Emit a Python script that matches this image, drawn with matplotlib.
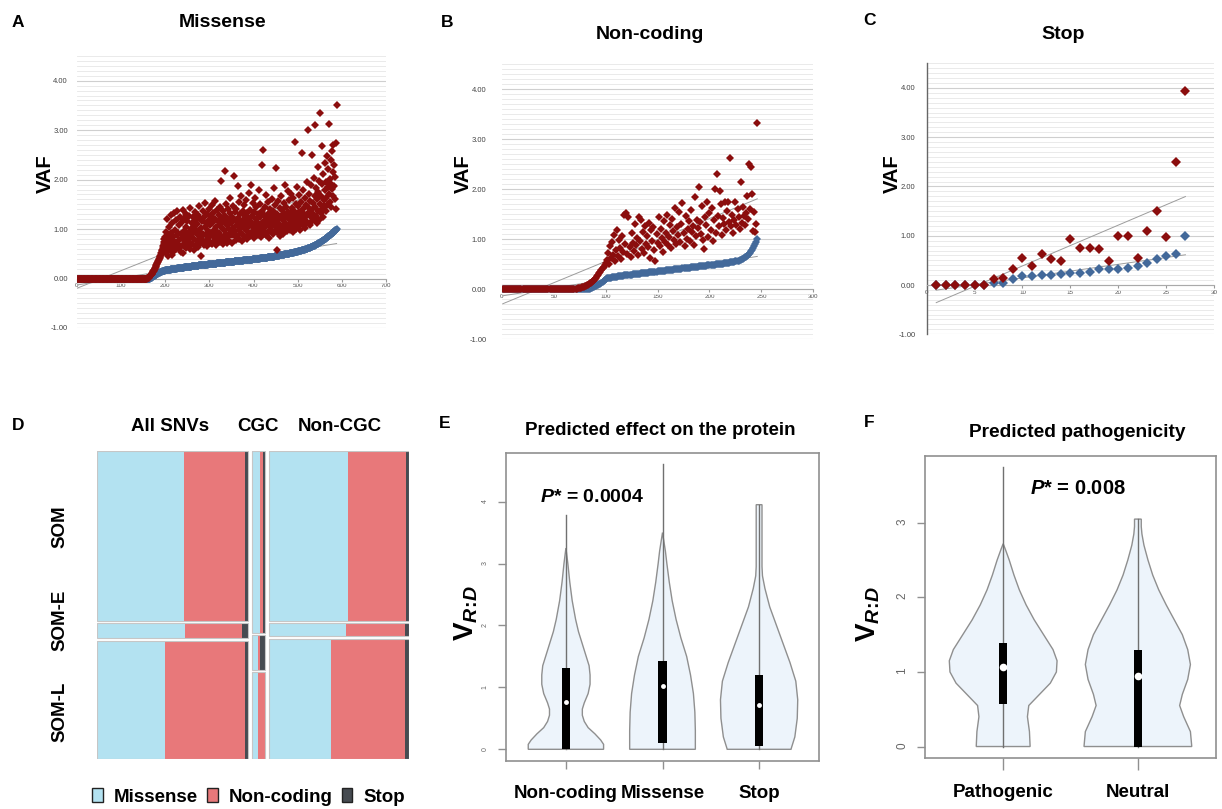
import numpy as np
import matplotlib
matplotlib.use('Agg')
import matplotlib.pyplot as plt
from matplotlib.patches import Patch
from matplotlib.ticker import MultipleLocator, FormatStrFormatter

plt.rcParams['font.family'] = ['Liberation Sans', 'DejaVu Sans']
plt.rcParams['mathtext.fontset'] = 'custom'
plt.rcParams['mathtext.rm'] = 'Liberation Sans:bold'
plt.rcParams['mathtext.bf'] = 'Liberation Sans:bold'
plt.rcParams['mathtext.it'] = 'Liberation Sans:bold:italic'

# ---------------- data: panels A-C (VAF, sorted by rank) ----------------
red_a = [0.0] * 158 + [
    0.01, 0.01, 0.02, 0.02, 0.03, 0.04, 0.05, 0.06, 0.07, 0.08,
    0.09, 0.10, 0.12, 0.13, 0.15, 0.16, 0.18, 0.20, 0.21, 0.23,
    0.25, 0.27, 0.29, 0.31, 0.33, 0.35, 0.37, 0.39, 0.41, 0.44,
    0.46, 0.48, 0.52, 0.55, 0.58, 0.62, 0.65, 0.70, 0.74, 0.79,
    0.62, 0.84,
    0.52, 0.95, 0.61, 1.21, 0.74, 0.45, 0.88, 0.67, 1.05, 0.58,
    0.79, 1.28, 0.63, 0.92, 0.48, 1.12, 0.71, 0.84, 0.55, 1.33,
    0.66, 0.98, 0.74, 1.19, 0.59, 0.87, 1.36, 0.70, 0.93, 0.62,
    1.08, 0.77, 1.25, 0.64, 0.90, 0.53, 1.15, 0.81, 0.68, 1.39,
    0.51, 0.96, 1.22, 0.73, 0.86, 1.31, 0.62, 1.04, 0.78, 1.17,
    0.89, 0.67, 1.27, 0.94, 0.72, 1.42, 0.60, 1.01, 0.83, 1.13,
    0.70, 1.24, 0.92, 0.57, 1.06, 0.80, 1.35, 0.66, 0.98, 1.18,
    0.75, 1.10, 0.63, 1.29, 0.88, 1.46, 0.69, 0.95, 1.21, 0.82,
    1.03, 0.45, 1.16, 0.77, 1.37, 0.91, 0.68, 1.25, 1.05, 0.74,
    1.52, 0.87, 1.12, 0.65, 1.31, 0.97, 0.79, 1.19, 1.41, 0.84,
    1.08, 0.72, 1.26, 0.93, 1.49, 0.70, 1.14, 0.86, 1.33, 0.99,
    0.76, 1.21, 1.57, 0.89, 1.04, 0.67, 1.38, 0.95, 1.17, 0.81,
    1.29, 0.92, 1.45, 0.74, 1.10, 1.97, 0.85, 1.23, 1.02, 0.69,
    1.36, 0.98, 1.14, 0.79, 2.17, 1.27, 0.90, 1.51, 0.72, 1.09,
    1.20, 0.83, 1.40, 1.01, 0.76, 1.32, 1.63, 0.94, 1.12, 0.87,
    1.25, 0.71, 1.46, 1.03, 2.07, 0.89, 1.18, 1.34, 0.96, 0.78,
    1.41, 1.09, 0.85, 1.87, 1.23, 0.99, 1.55, 0.80, 1.14, 1.30,
    0.92, 1.67, 1.06, 0.75, 1.37, 1.19, 0.88, 1.48, 1.02, 1.26,
    0.83, 1.13, 1.58, 0.97, 1.33, 0.79, 1.22, 1.05, 1.73, 0.91,
    1.16, 1.39, 0.86, 1.90, 1.08, 1.27, 0.94, 1.52, 1.11, 0.82,
    1.35, 1.00, 1.62, 0.89, 1.21, 1.44, 0.96, 1.15, 1.31, 0.87,
    1.07, 1.78, 0.93, 1.24, 1.50, 1.02, 0.84, 1.36, 1.12, 2.29,
    2.60, 0.98, 1.29, 1.17, 0.91, 1.45, 1.06, 1.68, 0.88, 1.22,
    1.10, 1.54, 0.95, 1.33, 1.19, 0.82, 1.41, 1.04, 1.27, 0.99,
    1.60, 1.14, 0.90, 1.37, 1.08, 1.84, 1.25, 0.97, 1.48, 1.16,
    2.24, 0.57, 1.03, 1.31, 0.93, 1.56, 1.21, 1.11, 0.86, 1.43,
    1.27, 1.05, 1.66, 0.99, 1.38, 1.18, 0.91, 1.52, 1.09, 1.30,
    1.90, 1.13, 1.01, 1.45, 1.24, 0.96, 1.76, 1.35, 1.07, 1.20,
    1.58, 0.98, 1.32, 1.15, 1.71, 1.04, 1.42, 1.26, 0.94, 1.62,
    1.19, 1.37, 1.08, 2.76, 1.29, 1.50, 1.00, 1.85, 1.23, 1.12,
    1.46, 1.06, 1.34, 1.68, 1.18, 0.99, 1.55, 1.27, 2.54, 1.14,
    1.40, 1.79, 1.09, 1.31, 1.22, 1.63, 1.03, 1.48, 1.17, 1.95,
    1.28, 1.12, 3.00, 1.44, 1.35, 1.70, 1.08, 1.57, 1.24, 1.89,
    1.39, 2.50, 1.16, 1.52, 1.30, 2.04, 1.21, 1.66, 3.11, 1.45,
    1.27, 1.83, 1.13, 1.60, 2.25, 1.36, 1.74, 1.19, 1.98, 1.50,
    3.35, 1.32, 1.67, 2.68, 1.41, 1.91, 1.25, 2.12, 1.58, 1.46,
    1.78, 2.34, 1.37, 1.95, 1.62, 2.48, 1.49, 1.86, 2.21, 1.70,
    3.13, 1.55, 2.02, 1.93, 1.44, 2.40, 1.81, 2.58, 1.66, 2.15,
    2.70, 1.88, 2.29, 1.61, 2.05, 1.40, 2.75, 3.50]

blue_a = [0.0] * 165 + [
    0.01, 0.01, 0.02, 0.02, 0.03, 0.03, 0.04, 0.05, 0.05, 0.06,
    0.06, 0.07, 0.07, 0.08, 0.08, 0.09, 0.10, 0.10, 0.11, 0.11,
    0.12, 0.12, 0.13, 0.13, 0.14, 0.14, 0.14, 0.15, 0.15, 0.15,
    0.16, 0.16, 0.16, 0.16, 0.17, 0.17, 0.17, 0.17, 0.17, 0.17,
    0.18, 0.18, 0.18, 0.18, 0.18, 0.18, 0.18, 0.19, 0.19, 0.19,
    0.19, 0.19, 0.19, 0.19, 0.20, 0.20, 0.20, 0.20, 0.20, 0.20,
    0.20, 0.21, 0.21, 0.21, 0.21, 0.21, 0.21, 0.21, 0.21, 0.22,
    0.22, 0.22, 0.22, 0.22, 0.22, 0.22, 0.22, 0.23, 0.23, 0.23,
    0.23, 0.23, 0.23, 0.23, 0.23, 0.24, 0.24, 0.24, 0.24, 0.24,
    0.24, 0.24, 0.24, 0.24, 0.25, 0.25, 0.25, 0.25, 0.25, 0.25,
    0.25, 0.25, 0.26, 0.26, 0.26, 0.26, 0.26, 0.26, 0.26, 0.26,
    0.27, 0.27, 0.27, 0.27, 0.27, 0.27, 0.27, 0.27, 0.27, 0.27,
    0.28, 0.28, 0.28, 0.28, 0.28, 0.28, 0.28, 0.28, 0.28, 0.28,
    0.28, 0.29, 0.29, 0.29, 0.29, 0.29, 0.29, 0.29, 0.29, 0.29,
    0.29, 0.30, 0.30, 0.30, 0.30, 0.30, 0.30, 0.30, 0.30, 0.30,
    0.30, 0.31, 0.31, 0.31, 0.31, 0.31, 0.31, 0.31, 0.31, 0.31,
    0.31, 0.32, 0.32, 0.32, 0.32, 0.32, 0.32, 0.32, 0.32, 0.32,
    0.32, 0.33, 0.33, 0.33, 0.33, 0.33, 0.33, 0.33, 0.33, 0.33,
    0.33, 0.34, 0.34, 0.34, 0.34, 0.34, 0.34, 0.34, 0.34, 0.34,
    0.34, 0.35, 0.35, 0.35, 0.35, 0.35, 0.35, 0.35, 0.35, 0.35,
    0.35, 0.36, 0.36, 0.36, 0.36, 0.36, 0.36, 0.36, 0.36, 0.36,
    0.36, 0.37, 0.37, 0.37, 0.37, 0.37, 0.37, 0.37, 0.37, 0.37,
    0.37, 0.38, 0.38, 0.38, 0.38, 0.38, 0.38, 0.38, 0.38, 0.38,
    0.38, 0.38, 0.39, 0.39, 0.39, 0.39, 0.39, 0.39, 0.39, 0.39,
    0.39, 0.40, 0.40, 0.40, 0.40, 0.40, 0.40, 0.40, 0.40, 0.41,
    0.41, 0.41, 0.41, 0.41, 0.41, 0.41, 0.41, 0.42, 0.42, 0.42,
    0.42, 0.42, 0.42, 0.42, 0.42, 0.42, 0.43, 0.43, 0.43, 0.43,
    0.43, 0.43, 0.43, 0.43, 0.44, 0.44, 0.44, 0.44, 0.44, 0.44,
    0.44, 0.44, 0.45, 0.45, 0.45, 0.45, 0.45, 0.46, 0.46, 0.46,
    0.46, 0.46, 0.46, 0.47, 0.47, 0.47, 0.47, 0.47, 0.48, 0.48,
    0.48, 0.48, 0.48, 0.48, 0.49, 0.49, 0.49, 0.49, 0.49, 0.49,
    0.49, 0.50, 0.50, 0.50, 0.50, 0.50, 0.51, 0.51, 0.51, 0.51,
    0.51, 0.52, 0.52, 0.52, 0.52, 0.52, 0.53, 0.53, 0.53, 0.53,
    0.53, 0.54, 0.54, 0.54, 0.54, 0.55, 0.55, 0.55, 0.55, 0.56,
    0.56, 0.56, 0.56, 0.57, 0.57, 0.57, 0.57, 0.58, 0.58, 0.58,
    0.58, 0.59, 0.59, 0.59, 0.60, 0.60, 0.60, 0.61, 0.61, 0.61,
    0.62, 0.62, 0.62, 0.63, 0.63, 0.63, 0.64, 0.64, 0.65, 0.65,
    0.65, 0.66, 0.66, 0.67, 0.67, 0.68, 0.68, 0.69, 0.69, 0.70,
    0.70, 0.71, 0.71, 0.72, 0.72, 0.73, 0.73, 0.74, 0.75, 0.75,
    0.76, 0.76, 0.77, 0.78, 0.78, 0.79, 0.80, 0.80, 0.81, 0.82,
    0.82, 0.83, 0.84, 0.85, 0.85, 0.86, 0.87, 0.88, 0.89, 0.89,
    0.90, 0.91, 0.92, 0.93, 0.93, 0.94, 0.95, 0.96, 0.97, 0.98,
    0.98, 0.99, 1.00]

red_b = [0.0] * 70 + [
    0.01, 0.01, 0.02, 0.02, 0.03, 0.03, 0.04, 0.05, 0.05, 0.06,
    0.07, 0.08, 0.09, 0.10, 0.12, 0.13, 0.15, 0.17, 0.19, 0.21,
    0.23, 0.26, 0.29, 0.32, 0.35, 0.38, 0.42, 0.45, 0.49, 0.53,
    0.58, 0.72, 0.50, 0.86, 0.63, 0.95, 0.68, 1.09, 0.56, 0.78,
    1.19, 0.66, 0.99, 0.82, 0.60, 1.06, 0.74, 1.48, 0.91, 1.52,
    0.70, 1.45, 0.85, 0.64, 1.12, 0.93, 0.77, 1.30, 0.88, 1.02,
    0.69, 1.45, 0.96, 1.38, 0.81, 1.15, 0.73, 1.27, 0.90, 1.06,
    0.84, 1.33, 0.62, 1.18, 0.97, 1.25, 0.79, 0.57, 1.10, 0.92,
    1.44, 0.86, 1.20, 1.03, 0.75, 1.36, 0.95, 1.13, 1.48, 0.88,
    1.05, 1.29, 0.82, 1.41, 1.17, 0.99, 1.62, 0.90, 1.24, 1.08,
    1.55, 0.94, 1.31, 1.72, 1.12, 0.87, 1.46, 1.01, 1.20, 1.36,
    0.96, 1.58, 1.14, 1.27, 0.89, 1.84, 1.06, 1.39, 1.22, 2.05,
    1.35, 1.10, 1.67, 0.98, 0.80, 1.44, 1.28, 1.75, 1.04, 1.53,
    1.19, 1.62, 0.97, 1.38, 2.00, 1.13, 2.30, 1.47, 1.26, 1.97,
    1.71, 1.09, 1.42, 1.30, 1.75, 1.18, 1.56, 1.75, 1.35, 2.63,
    1.26, 1.49, 1.12, 1.38, 1.75, 1.28, 1.61, 1.44, 1.21, 2.15,
    1.33, 1.64, 1.47, 1.29, 1.52, 1.86, 1.40, 2.50, 1.60, 2.45,
    1.90, 1.17, 1.55, 1.15, 1.30, 3.33]

blue_b = [0.0] * 84 + [
    0.01, 0.02, 0.03, 0.04, 0.05, 0.06, 0.07, 0.08, 0.09, 0.10,
    0.11, 0.13, 0.15, 0.17, 0.19, 0.21,
    0.22, 0.22, 0.23, 0.23, 0.23, 0.24, 0.24, 0.24, 0.25, 0.25,
    0.25, 0.26, 0.26, 0.26, 0.27, 0.27, 0.27, 0.28, 0.28, 0.28,
    0.28, 0.29, 0.29, 0.29, 0.29, 0.30, 0.30, 0.30, 0.30, 0.31,
    0.31, 0.31, 0.31, 0.32, 0.32, 0.32, 0.32, 0.33, 0.33, 0.33,
    0.33, 0.34, 0.34, 0.34, 0.34, 0.35, 0.35, 0.35, 0.35, 0.36,
    0.36, 0.36, 0.36, 0.37, 0.37, 0.37, 0.37, 0.38, 0.38, 0.38,
    0.38, 0.39, 0.39, 0.39, 0.39, 0.40, 0.40, 0.40, 0.40, 0.41,
    0.41, 0.41, 0.41, 0.42, 0.42, 0.42, 0.42, 0.43, 0.43, 0.43,
    0.43, 0.44, 0.44, 0.44, 0.44, 0.45, 0.45, 0.45, 0.45, 0.46,
    0.46, 0.46, 0.46, 0.47, 0.47, 0.47, 0.47, 0.48, 0.48, 0.48,
    0.48, 0.49, 0.49, 0.49, 0.49, 0.50, 0.50, 0.50, 0.50, 0.51,
    0.51, 0.51, 0.51, 0.52, 0.52, 0.52, 0.53, 0.53, 0.53, 0.54,
    0.54, 0.54, 0.55, 0.55, 0.56, 0.56, 0.57, 0.57, 0.58, 0.59,
    0.60, 0.61, 0.62, 0.64, 0.65, 0.67, 0.69, 0.71, 0.73, 0.76,
    0.79, 0.83, 0.87, 0.91, 0.95, 1.00]

red_c = [0.0, 0.0, 0.0, 0.0, 0.0, 0.0, 0.12, 0.15, 0.33, 0.55, 0.39, 0.63, 0.52, 0.49,
         0.93, 0.76, 0.76, 0.74, 0.48, 1.00, 1.00, 0.54, 1.10, 1.51, 0.97, 2.50, 3.93]
blue_c = [0.0, 0.0, 0.0, 0.0, 0.0, 0.0, 0.05, 0.04, 0.12, 0.18, 0.18, 0.20, 0.21, 0.22,
          0.24, 0.25, 0.27, 0.33, 0.33, 0.33, 0.35, 0.39, 0.44, 0.52, 0.59, 0.63, 1.00]
vaf_ticks = [-1, 0, 1, 2, 3, 4]

# ---------------- data: panel D (mosaic) ----------------
mos_cols = ['All SNVs', 'CGC', 'Non-CGC']
mos_rows = ['SOM', 'SOM-E', 'SOM-L']
effects = ['Missense', 'Non-coding', 'Stop']
mos_col_n = [1.0, 0.084, 0.93]
mos_row_share = [[0.56, 0.05, 0.39], [0.60, 0.113, 0.287], [0.56, 0.041, 0.399]]
mos_effect_share = [
    [[0.576, 0.402, 0.022], [0.582, 0.378, 0.040], [0.450, 0.532, 0.018]],
    [[0.60, 0.27, 0.13], [0.45, 0.15, 0.40], [0.45, 0.55, 0.0]],
    [[0.563, 0.411, 0.026], [0.551, 0.418, 0.031], [0.445, 0.525, 0.030]],
]

# ---------------- data: panels E/F (violin profiles: level, half width) ----------------
e_names = ['Non-coding', 'Missense', 'Stop']
e_prof = [
    ([0.0, 0.08, 0.15, 0.25, 0.35, 0.45, 0.55, 0.65, 0.75, 0.9, 1.05, 1.2, 1.35, 1.5, 1.7,
      1.9, 2.1, 2.4, 2.7, 3.0, 3.25],
     [0.39, 0.39, 0.36, 0.30, 0.23, 0.19, 0.17, 0.17, 0.19, 0.23, 0.25, 0.25, 0.24, 0.21, 0.17,
      0.13, 0.10, 0.065, 0.04, 0.02, 0.0]),
    ([0.0, 0.3, 0.6, 0.9, 1.2, 1.5, 1.8, 2.1, 2.4, 2.7, 3.0, 3.2, 3.4, 3.5],
     [0.34, 0.34, 0.335, 0.32, 0.29, 0.25, 0.19, 0.14, 0.10, 0.07, 0.045, 0.03, 0.01, 0.0]),
    ([0.0, 0.2, 0.5, 0.8, 1.1, 1.4, 1.7, 2.0, 2.3, 2.6, 2.8, 2.95, 3.95],
     [0.33, 0.37, 0.395, 0.40, 0.38, 0.32, 0.25, 0.18, 0.11, 0.06, 0.035, 0.03, 0.03]),
]
e_stats = [(0.0, 0.0, 0.77, 1.31, 3.78), (0.0, 0.10, 1.02, 1.42, 4.60), (0.0, 0.05, 0.72, 1.20, 3.95)]

f_names = ['Pathogenic', 'Neutral']
f_prof = [
    ([0.0, 0.2, 0.4, 0.55, 0.7, 0.85, 1.0, 1.15, 1.3, 1.5, 1.7, 1.9, 2.1, 2.3, 2.5, 2.65, 2.72],
     [0.20, 0.195, 0.18, 0.19, 0.27, 0.35, 0.395, 0.40, 0.37, 0.30, 0.23, 0.17, 0.12, 0.08,
      0.045, 0.015, 0.0]),
    ([0.0, 0.2, 0.4, 0.55, 0.7, 0.9, 1.1, 1.3, 1.5, 1.7, 1.9, 2.1, 2.3, 2.5, 2.7, 2.85, 2.95, 3.05],
     [0.40, 0.39, 0.34, 0.31, 0.33, 0.37, 0.39, 0.37, 0.33, 0.27, 0.21, 0.155, 0.11, 0.075,
      0.045, 0.03, 0.025, 0.025]),
]
f_stats = [(0.0, 0.57, 1.07, 1.39, 3.75), (0.0, 0.0, 0.95, 1.30, 3.05)]

RED = '#8b0d0d'
BLUE = '#43699a'
EFFECT_COLORS = ['#b3e2f1', '#e8787a', '#464b51']
VFILL = '#edf4fb'
VEDGE = '#8f8f8f'

fig = plt.figure(figsize=(12.22, 8.09), dpi=100)


def vaf_panel(rect, red, blue, xmax, xstep, ypad, ms, left_spine=False):
    ax = fig.add_axes(rect)
    for vals in (red, blue):
        xs = np.arange(1, len(vals) + 1)
        k, b = np.polyfit(xs, vals, 1)
        ax.plot([xs[0], xs[-1]], [k * xs[0] + b, k * xs[-1] + b], color='#9c9c9c', lw=0.7, zorder=2)
    ax.plot(np.arange(1, len(blue) + 1), blue, 'D', ms=ms, color=BLUE, mew=0, zorder=3)
    ax.plot(np.arange(1, len(red) + 1), red, 'D', ms=ms, color=RED, mew=0, zorder=4)
    ax.set_xlim(0, xmax)
    ax.set_ylim(-1, 4.5)
    ax.set_yticks(vaf_ticks)
    ax.yaxis.set_major_formatter(FormatStrFormatter('%.2f'))
    ax.yaxis.set_minor_locator(MultipleLocator(0.1))
    ax.xaxis.set_major_locator(MultipleLocator(xstep))
    ax.xaxis.set_major_formatter(FormatStrFormatter('%d'))
    ax.grid(axis='y', which='minor', color='#e6e6e6', lw=0.6)
    ax.grid(axis='y', which='major', color='#cfcfcf', lw=0.8)
    ax.set_axisbelow(True)
    for s in ('top', 'right'):
        ax.spines[s].set_visible(False)
    ax.spines['bottom'].set_position(('data', 0))
    ax.spines['bottom'].set_color('#aaaaaa')
    if left_spine:
        ax.spines['left'].set_color('#666666')
        ax.spines['left'].set_linewidth(1.0)
    else:
        ax.spines['left'].set_visible(False)
    ax.tick_params(axis='x', labelsize=4.5, length=2, pad=1.5, color='#999999', labelcolor='#555555')
    ax.tick_params(axis='y', which='both', length=0, labelsize=5.5, pad=ypad, labelcolor='#444444')
    return ax


vaf_panel([0.0630, 0.5946, 0.2529, 0.3362], red_a, blue_a, 700, 100, 6.5, 4.4)
vaf_panel([0.4106, 0.5806, 0.2550, 0.3399], red_b, blue_b, 300, 50, 11, 4.4)
vaf_panel([0.7583, 0.5868, 0.2353, 0.3350], red_c, blue_c, 30, 5, 8, 4.8, left_spine=True)

bold = dict(fontweight='bold')
for x, y, s in [(0.0147, 0.9662, 'A'), (0.3658, 0.9662, 'B'), (0.7119, 0.9691, 'C'),
                (0.0147, 0.4685, 'D'), (0.3642, 0.4706, 'E'), (0.7111, 0.4718, 'F')]:
    fig.text(x, y, s, fontsize=12.5, ha='center', va='baseline', **bold)
for x, y, s in [(0.1825, 0.9662, 'Missense'), (0.5319, 0.9514, 'Non-coding'), (0.8699, 0.9514, 'Stop')]:
    fig.text(x, y, s, fontsize=14, ha='center', va='baseline', **bold)
for x in (0.0368, 0.3789, 0.7299):
    fig.text(x, 0.7850, 'VAF', fontsize=14.5, rotation=90, ha='center', va='center', **bold)

# ---------------- panel D: mosaic ----------------
axd = fig.add_axes([0.0791, 0.0614, 0.2558, 0.3811])
axd.set_xlim(0, 1)
axd.set_ylim(0, 1)
axd.axis('off')
xgap, ygap = 0.013, 0.009
col_w = np.array(mos_col_n) / sum(mos_col_n) * (1 - xgap * (len(mos_col_n) - 1))
x0 = 0.0
for ci, w in enumerate(col_w):
    ytop = 1.0
    for ri, rs in enumerate(mos_row_share[ci]):
        h = rs * (1 - ygap * (len(mos_rows) - 1))
        yc = ytop - h / 2
        shares = np.array(mos_effect_share[ci][ri]) / sum(mos_effect_share[ci][ri])
        left = x0
        for ei, es in enumerate(shares):
            axd.barh(yc, es * w, left=left, height=h, color=EFFECT_COLORS[ei], lw=0)
            left += es * w
        axd.barh(yc, w, left=x0, height=h, fill=False, edgecolor='#c6c6c6', lw=0.8)
        ytop -= h + ygap
    x0 += w + xgap

for x, s in zip([0.1391, 0.2111, 0.2782], mos_cols):
    fig.text(x, 0.4676, s, fontsize=13.5, ha='center', va='baseline', **bold)
for y, s in zip([0.3490, 0.2328, 0.1203], mos_rows):
    fig.text(0.0490, y, s, fontsize=13.5, rotation=90, ha='center', va='center', **bold)
fig.legend(handles=[Patch(facecolor=c, edgecolor='#222222', lw=1.0, label=n)
                    for c, n in zip(EFFECT_COLORS, effects)],
           loc='center left', bbox_to_anchor=(0.0755, 0.0148), ncol=3, frameon=False,
           prop={'weight': 'bold', 'size': 13.5}, handlelength=0.55, handleheight=0.7,
           handletextpad=0.6, columnspacing=0.5, borderpad=0, borderaxespad=0)


# ---------------- panels E/F: violins ----------------
def violin_panel(rect, names, profiles, stats, xlim, ylim, yticks, box_hw, dot_ms,
                 ylab_size, ypad, ylen, xlen, xpad):
    ax = fig.add_axes(rect)
    for pos, (lv, hw), (lo, q1, med, q3, hi) in zip(range(1, len(names) + 1), profiles, stats):
        lv = np.array(lv)
        hw = np.array(hw)
        ax.fill(np.concatenate([pos - hw, (pos + hw)[::-1]]), np.concatenate([lv, lv[::-1]]),
                facecolor=VFILL, edgecolor=VEDGE, lw=1.0, zorder=2)
        ax.plot([pos, pos], [lo, hi], color='#707070', lw=1.0, zorder=3)
        ax.bar(pos, q3 - q1, bottom=q1, width=2 * box_hw, color='black', zorder=4)
        ax.plot(pos, med, 'o', color='white', ms=dot_ms, mew=0, zorder=5)
    ax.set_xlim(*xlim)
    ax.set_ylim(*ylim)
    ax.set_yticks(yticks)
    ax.set_xticks(range(1, len(names) + 1))
    ax.set_xticklabels(names, fontsize=13.5, fontweight='bold')
    for s in ax.spines.values():
        s.set_color('#909090')
        s.set_linewidth(1.2)
    ax.tick_params(axis='y', labelsize=ylab_size, length=ylen, pad=ypad, width=1,
                   color='#909090', labelcolor='#666666', labelrotation=90)
    ax.tick_params(axis='x', length=xlen, pad=xpad, width=1, color='#909090')
    return ax


axe = violin_panel([0.4141, 0.0597, 0.2561, 0.3803], e_names, e_prof, e_stats,
                   (0.38, 3.62), (-0.184, 4.784), [0, 1, 2, 3, 4], 0.042, 3.5,
                   5, 6.5, 5.8, 5.5, 12)
axe.text(0.734, 4.0, r'$\mathit{P}$* = 0.0004', fontsize=14, ha='left', va='baseline', **bold)
axf = violin_panel([0.7570, 0.0634, 0.2381, 0.3733], f_names, f_prof, f_stats,
                   (0.42, 2.58), (-0.15, 3.9), [0, 1, 2, 3], 0.03, 5.5,
                   8.5, 6, 6, 8.9, 10)
axf.text(1.198, 3.39, r'$\mathit{P}$* = 0.008', fontsize=14.5, ha='left', va='baseline', **bold)

fig.text(0.5401, 0.4623, 'Predicted effect on the protein', fontsize=13.5, ha='center', va='baseline', **bold)
fig.text(0.8813, 0.4602, 'Predicted pathogenicity', fontsize=13.8, ha='center', va='baseline', **bold)
vrd = r'$\mathbf{V}_{\mathit{R\!:\!D}}$'
fig.text(0.3813, 0.2423, vrd, fontsize=20, rotation=90, ha='center', va='center')
fig.text(0.7103, 0.2410, vrd, fontsize=20, rotation=90, ha='center', va='center')

fig.savefig('out.png', dpi=100)
